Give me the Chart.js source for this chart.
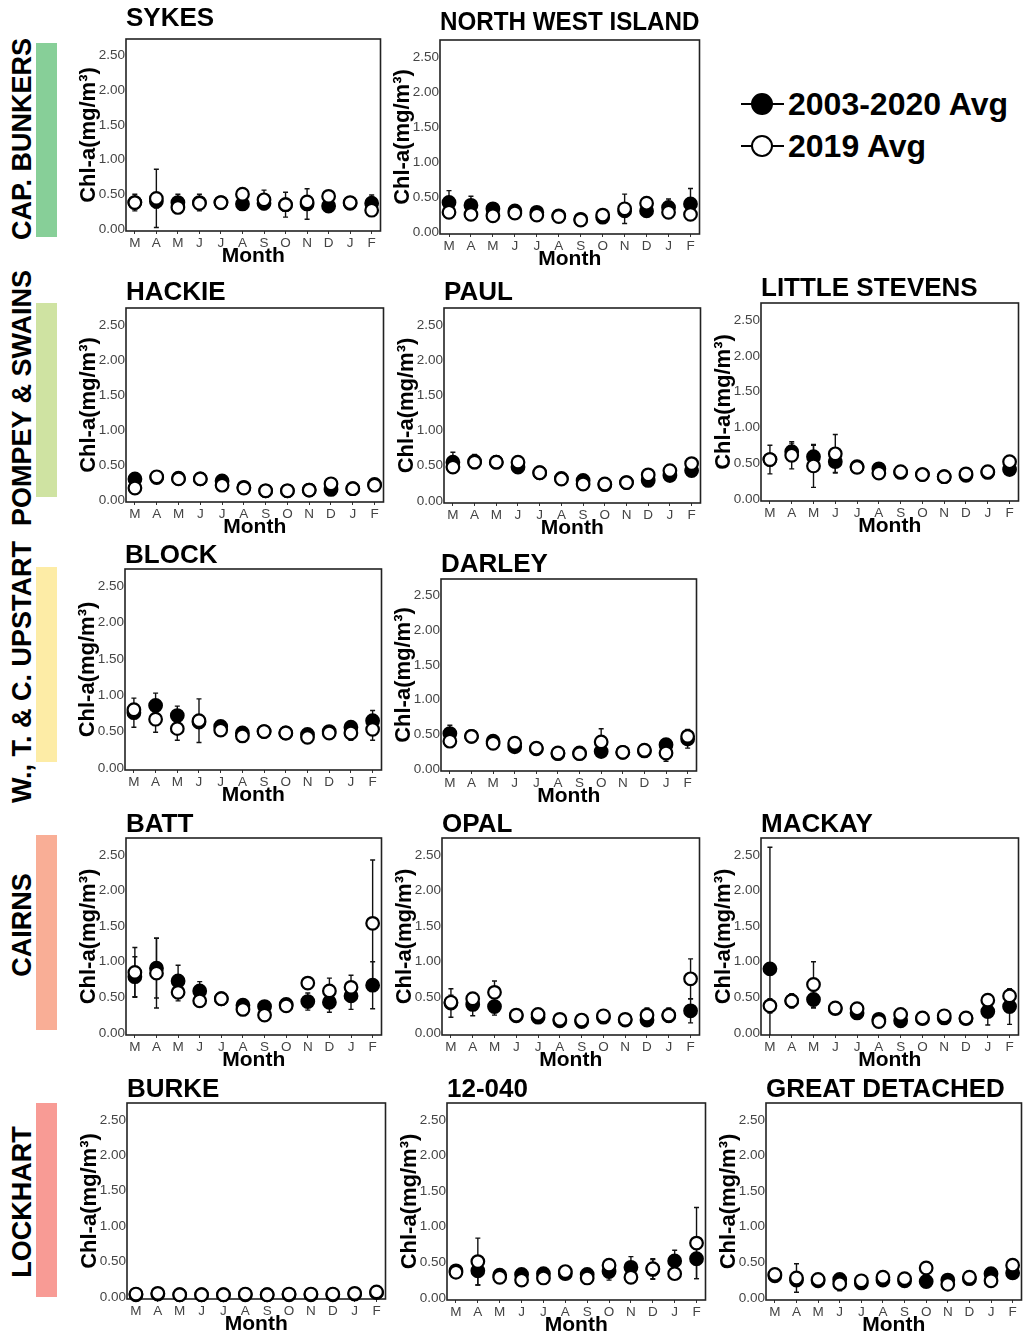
<!DOCTYPE html>
<html>
<head>
<meta charset="utf-8">
<script src="https://cdn.jsdelivr.net/npm/chart.js@4.4.1/dist/chart.umd.min.js"></script>
<style>
  html, body { margin: 0; padding: 0; background: #fff; }
  body { position: relative; width: 1024px; height: 1333px; overflow: hidden; font-family: "Liberation Sans", Arial, sans-serif; }
  canvas { position: absolute; }
  .region { position: absolute; left: 22px; font-weight: bold; font-size: 27px; white-space: nowrap; line-height: 1; transform: translate(-50%, -50%) rotate(-90deg); }
  .bar { position: absolute; left: 36px; width: 21px; }
  .lg-line { position: absolute; left: 741px; width: 43px; height: 2px; background: #000; }
  .lg-dot { position: absolute; left: 751px; width: 22px; height: 22px; border-radius: 50%; box-sizing: border-box; border: 2.5px solid #000; }
  .lg-text { position: absolute; left: 788px; font-weight: bold; font-size: 32px; line-height: 1; white-space: nowrap; }
</style>
</head>
<body>

<div class="bar" style="top:43px;height:194px;background:#87cf98"></div>
<div class="bar" style="top:303px;height:194px;background:#cfe3a2"></div>
<div class="bar" style="top:567px;height:195px;background:#fdeca6"></div>
<div class="bar" style="top:835px;height:195px;background:#f9ae96"></div>
<div class="bar" style="top:1103px;height:194px;background:#f89b95"></div>

<div class="region" style="top:139px">CAP. BUNKERS</div>
<div class="region" style="top:398px">POMPEY &amp; SWAINS</div>
<div class="region" style="top:672px">W., T. &amp; C. UPSTART</div>
<div class="region" style="top:925px">CAIRNS</div>
<div class="region" style="top:1202px">LOCKHART</div>

<div class="lg-line" style="top:103px"></div>
<div class="lg-dot" style="top:93px;background:#000"></div>
<div class="lg-text" style="top:88px">2003-2020 Avg</div>
<div class="lg-line" style="top:145px"></div>
<div class="lg-dot" style="top:135px;background:#fff"></div>
<div class="lg-text" style="top:130px">2019 Avg</div>

<script>
// x tick labels (Mar -> Feb)
const months = ['M', 'A', 'M', 'J', 'J', 'A', 'S', 'O', 'N', 'D', 'J', 'F'];

// Chl-a (mg/m3): 2003-2020 average, 2019 average, and error bar half-widths
const sykesAvg = [0.38, 0.40, 0.38, 0.38, 0.38, 0.36, 0.37, 0.35, 0.36, 0.33, 0.37, 0.37];
const sykes2019 = [0.38, 0.44, 0.31, 0.37, 0.38, 0.50, 0.42, 0.35, 0.39, 0.47, 0.38, 0.27];
const sykesAvgErr = [0.12, 0.10, 0.12, 0.12, 0.03, 0.05, 0.08, 0.06, 0.22, 0.05, 0.06, 0.12];
const sykes2019Err = [0.03, 0.42, 0.03, 0.05, 0.03, 0.05, 0.14, 0.18, 0.05, 0.04, 0.05, 0.05];

const nwiAvg = [0.42, 0.38, 0.33, 0.30, 0.28, 0.23, 0.18, 0.21, 0.30, 0.30, 0.35, 0.40];
const nwi2019 = [0.28, 0.25, 0.23, 0.27, 0.24, 0.22, 0.17, 0.24, 0.33, 0.41, 0.28, 0.25];
const nwiAvgErr = [0.17, 0.13, 0.05, 0.03, 0.03, 0.02, 0.02, 0.03, 0.05, 0.04, 0.12, 0.22];
const nwi2019Err = [0.08, 0.03, 0.03, 0.03, 0.03, 0.02, 0.02, 0.03, 0.21, 0.03, 0.03, 0.08];

const hackieAvg = [0.30, 0.32, 0.31, 0.30, 0.27, 0.18, 0.13, 0.13, 0.14, 0.15, 0.16, 0.22];
const hackie2019 = [0.17, 0.33, 0.30, 0.30, 0.21, 0.17, 0.13, 0.13, 0.14, 0.23, 0.16, 0.21];
const hackieAvgErr = [0.03, 0.03, 0.03, 0.03, 0.03, 0.02, 0.02, 0.02, 0.02, 0.03, 0.02, 0.03];
const hackie2019Err = [0.02, 0.02, 0.02, 0.02, 0.02, 0.02, 0.02, 0.02, 0.02, 0.02, 0.02, 0.02];

const paulAvg = [0.55, 0.56, 0.55, 0.48, 0.40, 0.32, 0.29, 0.23, 0.26, 0.29, 0.36, 0.43];
const paul2019 = [0.48, 0.55, 0.55, 0.55, 0.40, 0.31, 0.24, 0.24, 0.26, 0.37, 0.43, 0.53];
const paulAvgErr = [0.14, 0.10, 0.08, 0.04, 0.03, 0.03, 0.03, 0.03, 0.03, 0.05, 0.04, 0.06];
const paul2019Err = [0.08, 0.03, 0.03, 0.03, 0.02, 0.02, 0.02, 0.02, 0.02, 0.03, 0.03, 0.03];

const stevensAvg = [0.55, 0.66, 0.59, 0.52, 0.45, 0.42, 0.37, 0.34, 0.31, 0.33, 0.37, 0.41];
const stevens2019 = [0.55, 0.61, 0.46, 0.63, 0.44, 0.36, 0.38, 0.34, 0.31, 0.35, 0.38, 0.52];
const stevensAvgErr = [0.20, 0.12, 0.16, 0.15, 0.03, 0.03, 0.03, 0.03, 0.03, 0.08, 0.03, 0.04];
const stevens2019Err = [0.05, 0.19, 0.30, 0.27, 0.03, 0.03, 0.03, 0.03, 0.03, 0.06, 0.03, 0.04];

const blockAvg = [0.76, 0.86, 0.72, 0.63, 0.57, 0.48, 0.50, 0.48, 0.46, 0.50, 0.56, 0.65];
const block2019 = [0.80, 0.67, 0.54, 0.65, 0.52, 0.44, 0.50, 0.48, 0.42, 0.48, 0.48, 0.53];
const blockAvgErr = [0.20, 0.17, 0.13, 0.05, 0.05, 0.03, 0.03, 0.03, 0.04, 0.08, 0.07, 0.14];
const block2019Err = [0.08, 0.18, 0.16, 0.30, 0.06, 0.03, 0.03, 0.03, 0.03, 0.05, 0.10, 0.15];

const darleyAvg = [0.51, 0.47, 0.40, 0.32, 0.29, 0.22, 0.23, 0.25, 0.24, 0.26, 0.35, 0.43];
const darley2019 = [0.40, 0.47, 0.37, 0.37, 0.30, 0.23, 0.22, 0.39, 0.24, 0.27, 0.23, 0.47];
const darleyAvgErr = [0.12, 0.08, 0.08, 0.04, 0.03, 0.02, 0.02, 0.04, 0.02, 0.03, 0.05, 0.13];
const darley2019Err = [0.05, 0.05, 0.05, 0.03, 0.03, 0.02, 0.02, 0.19, 0.02, 0.03, 0.12, 0.10];

const battAvg = [0.79, 0.91, 0.73, 0.59, 0.48, 0.39, 0.37, 0.40, 0.44, 0.43, 0.52, 0.67];
const batt2019 = [0.85, 0.84, 0.57, 0.45, 0.48, 0.33, 0.25, 0.38, 0.70, 0.59, 0.64, 1.54];
const battAvgErr = [0.28, 0.42, 0.22, 0.13, 0.06, 0.05, 0.05, 0.06, 0.12, 0.14, 0.19, 0.33];
const batt2019Err = [0.35, 0.49, 0.12, 0.05, 0.05, 0.04, 0.04, 0.06, 0.06, 0.18, 0.17, 0.89];

const opalAvg = [0.42, 0.40, 0.37, 0.24, 0.22, 0.17, 0.16, 0.22, 0.18, 0.18, 0.24, 0.31];
const opal2019 = [0.43, 0.48, 0.57, 0.25, 0.26, 0.19, 0.18, 0.24, 0.19, 0.25, 0.25, 0.76];
const opalAvgErr = [0.20, 0.16, 0.12, 0.03, 0.03, 0.03, 0.02, 0.03, 0.03, 0.06, 0.06, 0.17];
const opal2019Err = [0.10, 0.08, 0.16, 0.03, 0.03, 0.03, 0.02, 0.03, 0.03, 0.10, 0.10, 0.28];

const mackayAvg = [0.90, 0.45, 0.47, 0.34, 0.28, 0.19, 0.17, 0.20, 0.21, 0.20, 0.30, 0.37];
const mackay2019 = [0.38, 0.45, 0.68, 0.35, 0.34, 0.16, 0.26, 0.21, 0.24, 0.21, 0.46, 0.52];
const mackayAvgErr = [1.71, 0.08, 0.12, 0.03, 0.05, 0.03, 0.03, 0.03, 0.03, 0.03, 0.19, 0.25];
const mackay2019Err = [0.10, 0.10, 0.32, 0.03, 0.03, 0.03, 0.03, 0.03, 0.03, 0.03, 0.05, 0.08];

const burkeAvg = [0.03, 0.04, 0.03, 0.03, 0.03, 0.03, 0.03, 0.03, 0.03, 0.03, 0.04, 0.06];
const burke2019 = [0.04, 0.05, 0.03, 0.03, 0.03, 0.04, 0.03, 0.04, 0.04, 0.04, 0.05, 0.07];
const burkeAvgErr = [0.01, 0.01, 0.01, 0.01, 0.01, 0.01, 0.01, 0.01, 0.01, 0.01, 0.01, 0.01];
const burke2019Err = [0.01, 0.01, 0.01, 0.01, 0.01, 0.01, 0.01, 0.01, 0.01, 0.01, 0.01, 0.01];

const r12040Avg = [0.38, 0.38, 0.32, 0.33, 0.34, 0.34, 0.33, 0.37, 0.43, 0.40, 0.52, 0.55];
const r120402019 = [0.36, 0.51, 0.29, 0.25, 0.28, 0.37, 0.28, 0.46, 0.29, 0.41, 0.34, 0.77];
const r12040AvgErr = [0.04, 0.20, 0.04, 0.04, 0.04, 0.04, 0.04, 0.12, 0.15, 0.14, 0.15, 0.28];
const r120402019Err = [0.04, 0.33, 0.04, 0.04, 0.04, 0.04, 0.04, 0.08, 0.06, 0.14, 0.05, 0.50];

const detachedAvg = [0.31, 0.25, 0.24, 0.26, 0.21, 0.25, 0.24, 0.23, 0.25, 0.27, 0.34, 0.35];
const detached2019 = [0.33, 0.28, 0.26, 0.20, 0.24, 0.29, 0.27, 0.42, 0.19, 0.29, 0.24, 0.46];
const detachedAvgErr = [0.03, 0.05, 0.03, 0.04, 0.03, 0.03, 0.03, 0.03, 0.04, 0.03, 0.08, 0.08];
const detached2019Err = [0.03, 0.20, 0.03, 0.10, 0.03, 0.03, 0.03, 0.08, 0.03, 0.03, 0.05, 0.05];

// panel boxes: [left, top, right, bottom] of the plot frame, tp = gap under title
const panels = [
  { name: 'SYKES', avg: sykesAvg, y19: sykes2019, eAvg: sykesAvgErr, e19: sykes2019Err, box: [126, 39, 386, 231], tp: 7 },
  { name: 'NORTH WEST ISLAND', avg: nwiAvg, y19: nwi2019, eAvg: nwiAvgErr, e19: nwi2019Err, box: [440, 40, 705, 234], tp: 4 },
  { name: 'HACKIE', avg: hackieAvg, y19: hackie2019, eAvg: hackieAvgErr, e19: hackie2019Err, box: [126, 308, 389, 502], tp: 2 },
  { name: 'PAUL', avg: paulAvg, y19: paul2019, eAvg: paulAvgErr, e19: paul2019Err, box: [444, 308, 706, 503], tp: 2 },
  { name: 'LITTLE STEVENS', avg: stevensAvg, y19: stevens2019, eAvg: stevensAvgErr, e19: stevens2019Err, box: [761, 303, 1024, 501], tp: 1 },
  { name: 'BLOCK', avg: blockAvg, y19: block2019, eAvg: blockAvgErr, e19: block2019Err, box: [125, 569, 387, 770], tp: 0 },
  { name: 'DARLEY', avg: darleyAvg, y19: darley2019, eAvg: darleyAvgErr, e19: darley2019Err, box: [441, 579, 702, 771], tp: 1 },
  { name: 'BATT', avg: battAvg, y19: batt2019, eAvg: battAvgErr, e19: batt2019Err, box: [126, 838, 387, 1035], tp: 0 },
  { name: 'OPAL', avg: opalAvg, y19: opal2019, eAvg: opalAvgErr, e19: opal2019Err, box: [442, 838, 705, 1035], tp: 0 },
  { name: 'MACKAY', avg: mackayAvg, y19: mackay2019, eAvg: mackayAvgErr, e19: mackay2019Err, box: [761, 838, 1024, 1035], tp: 0 },
  { name: 'BURKE', avg: burkeAvg, y19: burke2019, eAvg: burkeAvgErr, e19: burke2019Err, box: [127, 1103, 391, 1299], tp: 0 },
  { name: '12-040', avg: r12040Avg, y19: r120402019, eAvg: r12040AvgErr, e19: r120402019Err, box: [447, 1103, 711, 1300], tp: 0 },
  { name: 'GREAT DETACHED', avg: detachedAvg, y19: detached2019, eAvg: detachedAvgErr, e19: detached2019Err, box: [766, 1103, 1027, 1300], tp: 0 }
];

const family = '"Liberation Sans", Arial, sans-serif';
Chart.defaults.font.family = family;

// frame around the plot area
const frame = {
  id: 'frame',
  beforeDatasetsDraw(chart) {
    const { ctx, chartArea: a } = chart;
    ctx.save();
    ctx.strokeStyle = '#222';
    ctx.lineWidth = 1.6;
    ctx.strokeRect(a.left, a.top, a.right - a.left, a.bottom - a.top);
    ctx.restore();
  }
};

// whiskers from dataset.errors, drawn under the points
const errorBars = {
  id: 'errorBars',
  beforeDatasetsDraw(chart) {
    const { ctx, chartArea: a, scales: { x, y } } = chart;
    ctx.save();
    ctx.beginPath();
    ctx.rect(a.left, a.top, a.right - a.left, a.bottom - a.top);
    ctx.clip();
    ctx.strokeStyle = '#111';
    ctx.lineWidth = 1.4;
    chart.data.datasets.forEach(ds => {
      (ds.errors || []).forEach((e, i) => {
        if (!e) return;
        const v = ds.data[i].y;
        const px = x.getPixelForValue(i);
        const top = y.getPixelForValue(v + e);
        const bot = y.getPixelForValue(v - e);
        ctx.beginPath();
        ctx.moveTo(px, top); ctx.lineTo(px, bot);
        ctx.moveTo(px - 2.5, top); ctx.lineTo(px + 2.5, top);
        ctx.moveTo(px - 2.5, bot); ctx.lineTo(px + 2.5, bot);
        ctx.stroke();
      });
    });
    ctx.restore();
  }
};

const pts = vals => vals.map((v, i) => ({ x: i, y: v }));

panels.forEach(p => {
  const [l, t, r, b] = p.box;
  const titleH = 26 + p.tp;
  const cv = document.createElement('canvas');
  cv.width = 48 + (r - l) + 3;
  cv.height = titleH + (b - t) + 36;
  cv.style.left = (l - 48) + 'px';
  cv.style.top = (t - titleH) + 'px';
  document.body.appendChild(cv);

  new Chart(cv, {
    type: 'scatter',
    data: {
      datasets: [{
        label: '2019 Avg',
        data: pts(p.y19),
        errors: p.e19,
        backgroundColor: '#fff',
        borderColor: '#000',
        pointRadius: 6.3,
        pointBorderWidth: 2.2,
        order: 1,
        clip: false
      }, {
        label: '2003-2020 Avg',
        data: pts(p.avg),
        errors: p.eAvg,
        backgroundColor: '#000',
        borderColor: '#000',
        pointRadius: 6.3,
        pointBorderWidth: 2.2,
        order: 2,
        clip: false
      }]
    },
    options: {
      responsive: false,
      animation: false,
      devicePixelRatio: 1,
      layout: { padding: { top: 0, right: 3, bottom: 0, left: 0 } },
      plugins: {
        legend: { display: false },
        tooltip: { enabled: false },
        title: {
          display: true,
          text: p.name,
          align: 'start',
          fullSize: false,
          color: '#000',
          font: { size: 26, weight: 'bold', lineHeight: 1 },
          padding: { top: 0, bottom: p.tp }
        }
      },
      scales: {
        x: {
          type: 'linear',
          min: -0.41,
          max: 11.41,
          afterFit: s => { s.height = 36; },
          border: { display: false },
          grid: { display: true, drawOnChartArea: false, drawTicks: true, tickLength: 3, color: '#333' },
          ticks: {
            stepSize: 1,
            includeBounds: false,
            autoSkip: false,
            maxRotation: 0,
            padding: 1,
            color: '#444',
            font: { size: 13.5 },
            callback: v => (Number.isInteger(v) && months[v]) ? months[v] : ''
          },
          title: { display: true, text: 'Month', color: '#000', font: { size: 21, weight: 'bold', lineHeight: 1 }, padding: 0 }
        },
        y: {
          min: -0.03,
          max: 2.74,
          afterFit: s => { s.width = 48; },
          border: { display: false },
          grid: { display: false, drawTicks: false },
          ticks: {
            stepSize: 0.5,
            includeBounds: false,
            padding: 1,
            color: '#444',
            font: { size: 13.5 },
            callback: v => v.toFixed(2)
          },
          title: { display: true, text: 'Chl-a(mg/m³)', color: '#000', font: { size: 22, weight: 'bold', lineHeight: 1 }, padding: 0 }
        }
      }
    },
    plugins: [frame, errorBars]
  });
});
</script>
</body>
</html>
